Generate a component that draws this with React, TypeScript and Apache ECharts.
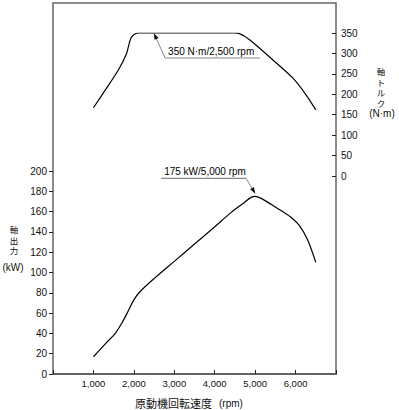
import React, { useEffect, useRef } from "react";
import * as echarts from "echarts";

const rpmTicks = [1000, 2000, 3000, 4000, 5000, 6000];

const torqueRpm = [1000, 1290, 1620, 1820, 1910, 1990, 2110, 2500, 3500, 4500, 4600, 4870, 5440, 5930, 6250, 6500];
const torqueVal = [167, 210, 260, 300, 333, 345, 350, 350, 350, 350, 349, 333, 284, 240, 200, 162];

const powerRpm = [1000, 1300, 1540, 1700, 1860, 2000, 2150, 2500, 3000, 3500, 4000, 4400, 4700, 4900, 5000, 5150, 5400, 5680, 5900, 6100, 6300, 6500];
const powerVal = [17, 30, 40, 50, 62, 73, 81, 94, 111, 128, 145, 159, 168, 174, 175, 173, 167, 160, 154, 146, 132, 110];

const torquePeak = [2500, 350];
const powerPeak = [5000, 175];
const torqueLabel = "350 N·m/2,500 rpm";
const powerLabel = "175 kW/5,000 rpm";
const powerAxisChars = ["軸", "出", "力"];
const torqueAxisChars = ["軸", "ト", "ル", "ク"];

const FONT = "'Liberation Sans', Arial, 'Noto Sans CJK JP', sans-serif";
const CJK = "'Noto Sans CJK JP', 'Liberation Sans', sans-serif";

function arrowHead(x1: number, y1: number, x2: number, y2: number) {
  const dx = x2 - x1, dy = y2 - y1;
  const len = Math.sqrt(dx * dx + dy * dy);
  const ux = dx / len, uy = dy / len;
  const hl = 6, hw = 2.2;
  const bx = x2 - ux * hl, by = y2 - uy * hl;
  return [
    [x2, y2],
    [bx - uy * hw, by + ux * hw],
    [bx + uy * hw, by - ux * hw],
  ];
}

export default function App() {
  const ref = useRef<HTMLDivElement>(null);
  useEffect(() => {
    if (!ref.current) return;
    const chart = echarts.init(ref.current, null, { renderer: "svg" });
    const gl = 53, gr = 63;
    const hiddenX = (gi: number) => ({
      type: "value", gridIndex: gi, min: 0, max: 7000, interval: 1000, show: false,
      axisLine: { show: false, onZero: false }, axisTick: { show: false }, axisLabel: { show: false }, splitLine: { show: false },
    });
    const option: any = {
      animation: false,
      backgroundColor: "#fff",
      textStyle: { fontFamily: FONT },
      grid: [
        { left: gl, right: gr, top: 3, bottom: 36, show: true, borderColor: "#666", borderWidth: 1.5 },
        { left: gl, right: gr, top: 171, bottom: 36 },
        { left: gl, right: gr, top: 33, bottom: 234 },
      ],
      xAxis: [
        {
          type: "value", gridIndex: 0, min: 0, max: 7000, interval: 1000,
          axisLine: { show: true, onZero: false, lineStyle: { color: "#555", width: 1.5 } },
          axisTick: { show: true, inside: true, length: 4, lineStyle: { color: "#222" } },
          splitLine: { show: false },
          axisLabel: {
            fontSize: 9.5, color: "#111", fontFamily: FONT, margin: 5,
            formatter: (v: number) => (rpmTicks.includes(v) ? v.toLocaleString("en-US") : ""),
          },
        },
        hiddenX(1),
        hiddenX(2),
      ],
      yAxis: [
        {
          type: "value", gridIndex: 0, min: 0, max: 100, show: false,
          axisLine: { show: false, onZero: false }, axisTick: { show: false }, axisLabel: { show: false }, splitLine: { show: false },
        },
        {
          type: "value", gridIndex: 1, min: 0, max: 200, interval: 20, position: "left",
          axisLine: { show: false, onZero: false },
          axisTick: { show: true, inside: false, length: 4, lineStyle: { color: "#222" } },
          splitLine: { show: false },
          axisLabel: { fontSize: 10, color: "#111", fontFamily: FONT, margin: 6 },
        },
        {
          type: "value", gridIndex: 2, min: 0, max: 350, interval: 50, position: "right",
          axisLine: { show: false, onZero: false },
          axisTick: { show: true, inside: true, length: 4, lineStyle: { color: "#222" } },
          splitLine: { show: false },
          axisLabel: { fontSize: 10, color: "#111", fontFamily: FONT, margin: 5 },
        },
      ],
      series: [
        {
          type: "line", xAxisIndex: 1, yAxisIndex: 1,
          data: powerRpm.map((r, i) => [r, powerVal[i]]),
          smooth: 0.3, showSymbol: false,
          lineStyle: { color: "#000", width: 1.2 },
        },
        {
          type: "line", xAxisIndex: 2, yAxisIndex: 2,
          data: torqueRpm.map((r, i) => [r, torqueVal[i]]),
          smooth: 0.3, showSymbol: false,
          lineStyle: { color: "#000", width: 1.2 },
        },
      ],
    };
    chart.setOption(option);

    const tp = chart.convertToPixel({ xAxisIndex: 2, yAxisIndex: 2 }, torquePeak) as number[];
    const pp = chart.convertToPixel({ xAxisIndex: 1, yAxisIndex: 1 }, powerPeak) as number[];

    const tTip = [tp[0], tp[1] + 0.5];
    const tA = [tp[0] + 11, tp[1] + 25];
    const tEnd = [tp[0] + 106, tp[1] + 25];
    const pTip = [pp[0], pp[1] - 3];
    const pA = [pp[0] - 9, pp[1] - 18];
    const pStart = [pp[0] - 94, pp[1] - 18];

    const gray = "#888";
    const graphic: any[] = [
      { type: "line", shape: { x1: tA[0], y1: tA[1], x2: tTip[0], y2: tTip[1] }, style: { stroke: gray, lineWidth: 1 } },
      { type: "line", shape: { x1: tA[0], y1: tA[1], x2: tEnd[0], y2: tEnd[1] }, style: { stroke: gray, lineWidth: 1.2 } },
      { type: "polygon", shape: { points: arrowHead(tA[0], tA[1], tTip[0], tTip[1]) }, style: { fill: "#000" } },
      { type: "text", x: tA[0] + 3, y: tA[1] - 1.5, style: { text: torqueLabel, font: `10px ${FONT}`, fill: "#000", textAlign: "left", textVerticalAlign: "bottom" } },
      { type: "line", shape: { x1: pA[0], y1: pA[1], x2: pTip[0], y2: pTip[1] }, style: { stroke: gray, lineWidth: 1 } },
      { type: "line", shape: { x1: pStart[0], y1: pStart[1], x2: pA[0], y2: pA[1] }, style: { stroke: gray, lineWidth: 1.2 } },
      { type: "polygon", shape: { points: arrowHead(pA[0], pA[1], pTip[0], pTip[1]) }, style: { fill: "#000" } },
      { type: "text", x: pStart[0] + 3, y: pStart[1] - 1.5, style: { text: powerLabel, font: `10px ${FONT}`, fill: "#000", textAlign: "left", textVerticalAlign: "bottom" } },
      ...powerAxisChars.map((c, i) => ({
        type: "text", x: 14, y: 229 + i * 10.5, style: { text: c, font: `8.5px ${CJK}`, fill: "#111", textAlign: "center", textVerticalAlign: "middle" },
      })),
      { type: "text", x: 13, y: 267, style: { text: "(kW)", font: `10px ${FONT}`, fill: "#111", textAlign: "center", textVerticalAlign: "middle" } },
      ...torqueAxisChars.map((c, i) => ({
        type: "text", x: 381, y: 71 + i * 10.5, style: { text: c, font: `8.5px ${CJK}`, fill: "#111", textAlign: "center", textVerticalAlign: "middle" },
      })),
      { type: "text", x: 382, y: 113.5, style: { text: "(N·m)", font: `10px ${FONT}`, fill: "#111", textAlign: "center", textVerticalAlign: "middle" } },
      { type: "text", x: 135, y: 403, style: { text: "原動機回転速度", font: `11px ${CJK}`, fill: "#111", textAlign: "left", textVerticalAlign: "middle" } },
      { type: "text", x: 219, y: 403, style: { text: "(rpm)", font: `10px ${FONT}`, fill: "#111", textAlign: "left", textVerticalAlign: "middle" } },
    ];
    chart.setOption({ graphic });

    return () => chart.dispose();
  }, []);
  return (
    <div
      ref={ref}
      style={{ position: "fixed", left: 0, top: 0, width: 399, height: 410, background: "#fff" }}
    />
  );
}
